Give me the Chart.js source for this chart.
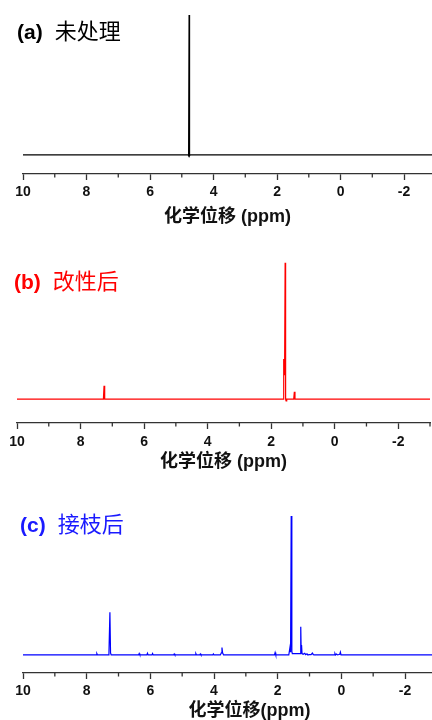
<!DOCTYPE html>
<html>
<head>
<meta charset="utf-8">
<script src="https://cdn.jsdelivr.net/npm/chart.js@4.4.1/dist/chart.umd.min.js"></script>
<style>
  html, body { margin: 0; padding: 0; background: #fff; width: 432px; height: 720px; overflow: hidden; }
  .panel { position: absolute; left: 0; width: 432px; height: 240px; overflow: hidden; }
  .panel canvas { position: absolute; left: 0; top: 0; }
  .label { position: absolute; white-space: nowrap; line-height: 1; }
  .label b { font-family: Arial, "Liberation Sans", sans-serif; font-size: 21px; }
  .label span { font-family: "Noto Sans CJK SC", sans-serif; font-size: 22px; margin-left: 12px; }
</style>
</head>
<body>
<div class="panel" style="top:0">
  <canvas id="chartA" width="432" height="240"></canvas>
  <div class="label" style="left:17px;top:18px;color:#000"><b>(a)</b><span>未处理</span></div>
</div>
<div class="panel" style="top:240px">
  <canvas id="chartB" width="432" height="240"></canvas>
  <div class="label" style="left:14px;top:28px;color:#ff0000"><b>(b)</b><span>改性后</span></div>
</div>
<div class="panel" style="top:480px">
  <canvas id="chartC" width="476" height="240"></canvas>
  <div class="label" style="left:20px;top:31px;color:#1a1aff"><b>(c)</b><span>接枝后</span></div>
</div>
<script>
// x axis ticks (ppm)
const majorTicks = [10, 8, 6, 4, 2, 0, -2];
const minorTicks = [9, 7, 5, 3, 1, -1, -3];

// (a) untreated
const shiftA = [10, 4.80, 4.785, 4.77, 4.755, 4.74, -5];
const intensityA = [0, 0, -0.6, 100, -0.6, 0, 0];

// (b) modified
const shiftB = [10, 7.28, 7.26, 7.24, 1.62, 1.605, 1.59, 1.575, 1.56, 1.545, 1.53, 1.51, 1.29, 1.27, 1.25, -5];
const intensityB = [0, 0, 9.8, 0, 0, 29.5, 18, 29, 100, 0, -1.3, 0, 0, 5.4, 0, 0];

// (c) grafted
const shiftC = [10, 7.70, 7.68, 7.66, 7.32, 7.30, 7.27, 7.25, 7.23,
  6.37, 6.35, 6.33, 6.11, 6.09, 6.07, 5.95, 5.93, 5.91, 5.27, 5.25, 5.23,
  4.59, 4.57, 4.55, 4.45, 4.43, 4.41, 4.04, 4.02, 4.00,
  3.80, 3.77, 3.75, 3.73, 3.70, 2.10, 2.08, 2.06,
  1.65, 1.615, 1.595, 1.575, 1.555, 1.54, 1.33, 1.29, 1.275, 1.262, 1.25, 1.235,
  1.20, 1.15, 1.12, 1.08, 1.05, 1.00, 0.95, 0.91, 0.88, 0.85,
  0.22, 0.20, 0.18, 0.15, 0.12, 0.05, 0.03, 0.01, -5];
const intensityC = [0, 0, 1.0, 0, 0, 1.5, 30.7, 1.5, 0,
  0, 1.0, 0, 0, 1.2, 0, 0, 1.0, 0, 0, 0.8, 0,
  0, 1.0, 0, 0, 0.8, 0, 0, 0.8, 0,
  0, 1.5, 5.3, 1.5, 0, 0, 1.7, 0,
  0, 5.3, 2, 100, 2.5, 1.0, 1.0, 1.0, 20.3, 3, 7.2, 1.0,
  0.5, 1.2, 0.2, 0.8, 0, 0.3, 0.2, 1.3, 0.2, 0,
  0, 1.0, 0, 0.6, 0, 0.5, 2.0, 0, 0];

const axisColor = "#333";

const minorTickPlugin = {
  id: "minorTicks",
  afterDraw(chart) {
    const xs = chart.scales.x;
    const ctx = chart.ctx;
    const y0 = chart.chartArea.bottom;
    ctx.save();
    ctx.strokeStyle = axisColor;
    ctx.lineWidth = 1.3;
    ctx.beginPath();
    minorTicks.forEach((v) => {
      const px = xs.getPixelForValue(v);
      ctx.moveTo(px, y0);
      ctx.lineTo(px, y0 + 3.5);
    });
    ctx.stroke();
    ctx.restore();
  },
};

function makeChart(id, shifts, intensities, color, cfg) {
  const ctx = document.getElementById(id).getContext("2d");
  return new Chart(ctx, {
    type: "line",
    data: {
      datasets: [
        {
          data: shifts.map((s, i) => ({ x: s, y: intensities[i] })),
          borderColor: color,
          borderWidth: 1.2,
          pointRadius: 0,
          tension: 0,
          fill: false,
        },
      ],
    },
    options: {
      responsive: false,
      animation: false,
      layout: { padding: cfg.padding },
      plugins: { legend: { display: false }, tooltip: { enabled: false } },
      scales: {
        x: {
          type: "linear",
          reverse: true,
          min: cfg.xMin,
          max: 10,
          afterBuildTicks: (scale) => {
            scale.ticks = majorTicks.map((v) => ({ value: v }));
          },
          border: { display: true, color: axisColor, width: 1.3 },
          grid: {
            display: true,
            drawOnChartArea: false,
            drawTicks: true,
            tickLength: 6,
            tickColor: axisColor,
            tickWidth: 1.3,
          },
          ticks: {
            padding: cfg.tickPad,
            color: "#111",
            font: { family: "Arial, 'Liberation Sans'", size: 14, weight: "bold", lineHeight: 1 },
            maxRotation: 0,
            callback: (v) => String(v),
          },
          title: {
            display: true,
            text: cfg.title,
            color: "#111",
            padding: { top: cfg.titlePad, bottom: 0 },
            font: { family: "Arial, 'Liberation Sans', 'Noto Sans CJK SC'", size: 18, weight: "bold", lineHeight: 1 },
          },
        },
        y: { display: false, min: cfg.yMin, max: cfg.yMax },
      },
    },
    plugins: [minorTickPlugin],
  });
}

makeChart("chartA", shiftA, intensityA, "#000000", {
  padding: { left: 23, right: 0, top: 10, bottom: 14 },
  xMin: -2.88, yMin: -13.7, yMax: 103.6, tickPad: 5.5, titlePad: 3,
  title: "化学位移 (ppm)",
});
makeChart("chartB", shiftB, intensityB, "#ff0000", {
  padding: { left: 17, right: 2, top: 15, bottom: 9 },
  xMin: -3.0, yMin: -17.5, yMax: 105.7, tickPad: 6, titlePad: -2,
  title: "化学位移 (ppm)",
});
makeChart("chartC", shiftC, intensityC, "#0000ff", {
  padding: { left: 23, right: 0, top: 20, bottom: 0 },
  xMin: -4.23, yMin: -13.0, yMax: 111.6, tickPad: 5, titlePad: -1,
  title: "化学位移(ppm)",
});
</script>
</body>
</html>
